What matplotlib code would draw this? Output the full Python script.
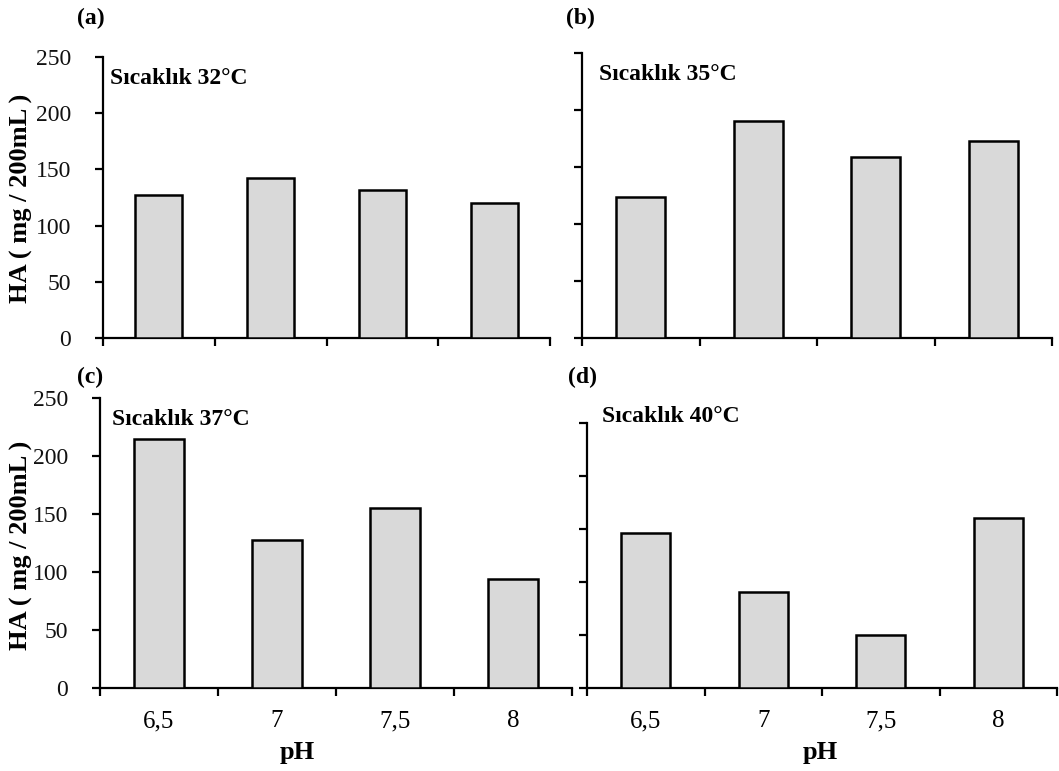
import matplotlib
matplotlib.use("Agg")
import matplotlib.pyplot as plt

ph_labels = ['6,5', '7', '7,5', '8']
ha_32 = [127, 142, 132, 120]
ha_35 = [124, 190, 159, 173]
ha_37 = [215, 128, 155, 94]
ha_40 = [146, 91, 50, 160]
yticks = [0, 50, 100, 150, 200, 250]
panel_letters = ['(a)', '(b)', '(c)', '(d)']
temp_titles = ['Sıcaklık 32°C', 'Sıcaklık 35°C', 'Sıcaklık 37°C', 'Sıcaklık 40°C']
ylabel = 'HA ( mg / 200mL )'
xlabel = 'pH'

W, H = 1059, 771
plt.rcParams['font.family'] = ['Liberation Serif', 'DejaVu Serif']
fig = plt.figure(figsize=(W / 100, H / 100), dpi=100)

def px_axes(left, right, bottom, top):
    return fig.add_axes([left / W, 1 - bottom / H, (right - left) / W, (bottom - top) / H])

# pixel boxes: left, right, bottom(y=0), top(y=250)
boxes = [(103, 550, 338, 57), (582, 1052, 338, 53), (100, 572, 688, 398), (587, 1057, 688, 423)]
data = [ha_32, ha_35, ha_37, ha_40]
letter_pos = [(77, 18), (566, 18), (77, 377), (568, 377)]
title_pos = [(110, 78), (599, 74), (112, 420), (602, 417)]

for i, (box, vals) in enumerate(zip(boxes, data)):
    ax = px_axes(*box)
    x = list(range(1, len(vals) + 1))
    ax.bar(x, vals, width=0.42, color='#d9d9d9', edgecolor='black', linewidth=1.8, zorder=3)
    ax.set_xlim(0.5, len(vals) + 0.5)
    ax.set_ylim(0, 250)
    for s in ['top', 'right']:
        ax.spines[s].set_visible(False)
    for s in ['left', 'bottom']:
        ax.spines[s].set_linewidth(1.6)
        ax.spines[s].set_color('black')
    ax.set_yticks(yticks)
    ax.set_xticks([v + 0.5 for v in range(0, len(vals) + 1)])
    ax.set_xticklabels([])
    ax.xaxis.set_minor_locator(matplotlib.ticker.FixedLocator(x))
    ax.tick_params(axis='x', which='major', direction='out', length=6, width=1.6)
    ax.tick_params(axis='x', which='minor', length=0, labelsize=18, pad=16)
    ax.tick_params(axis='y', direction='out', length=6, width=1.6, labelsize=17, pad=17)
    for lab in ax.get_yticklabels():
        lab.set_color('#111111')
    if i in (1, 3):
        ax.set_yticklabels([])
    if i in (2, 3):
        ax.xaxis.set_minor_formatter(matplotlib.ticker.FixedFormatter(ph_labels))
    fig.text(letter_pos[i][0] / W, 1 - letter_pos[i][1] / H, panel_letters[i],
             fontsize=17, fontweight='bold', ha='left', va='center')
    fig.text(title_pos[i][0] / W, 1 - title_pos[i][1] / H, temp_titles[i],
             fontsize=17, fontweight='bold', ha='left', va='center')

for yc in (198, 545):
    fig.text(21 / W, 1 - yc / H, ylabel, rotation=90, fontsize=19, fontweight='bold',
             ha='center', va='center')
for xc in (297, 820):
    fig.text(xc / W, 1 - 752 / H, xlabel, fontsize=19, fontweight='bold', ha='center', va='center')

fig.savefig('out.png', dpi=100)
